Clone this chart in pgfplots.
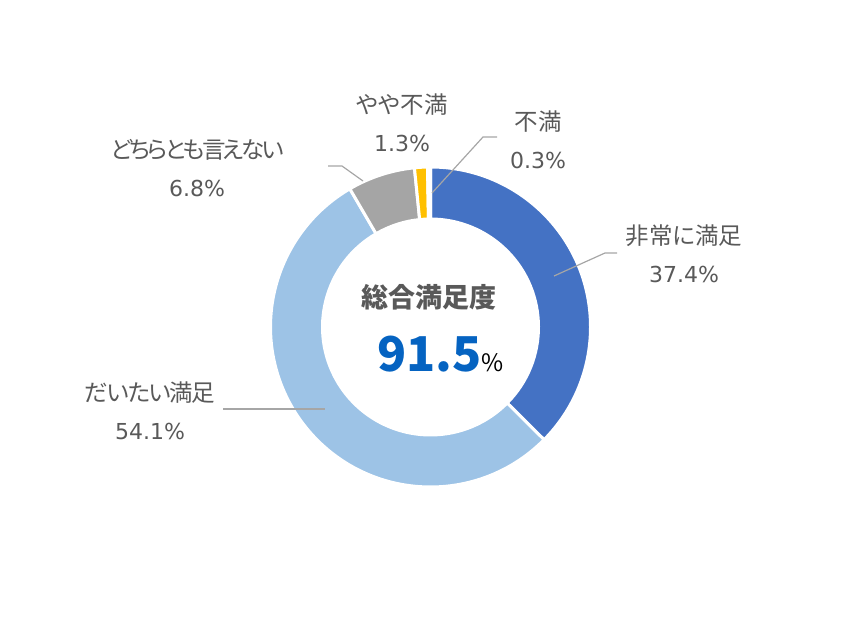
\documentclass[border=0pt]{standalone}
\usepackage{pgfplots}
\pgfplotsset{compat=1.18}
\usepackage{fontspec}
\setmainfont{Noto Sans CJK JP}[RawFeature=+palt]
\newfontfamily\num{DejaVu Sans}

\definecolor{cA}{HTML}{4472C4}
\definecolor{cB}{HTML}{9DC3E6}
\definecolor{cC}{HTML}{A5A5A5}
\definecolor{cD}{HTML}{FFC000}
\definecolor{cE}{HTML}{5B9BD5}
\definecolor{txt}{HTML}{595959}
\definecolor{lead}{HTML}{A6A6A6}
\definecolor{big}{HTML}{0563C1}

% shares (%)
\def\vA{37.4} % 非常に満足
\def\vB{54.1} % だいたい満足
\def\vC{6.8}  % どちらとも言えない
\def\vD{1.3}  % やや不満
\def\vE{0.3}  % 不満
\pgfmathsetmacro\tot{\vA+\vB+\vC+\vD+\vE}
\pgfmathsetmacro\aA{90}
\pgfmathsetmacro\aB{90-(\vA)/\tot*360}
\pgfmathsetmacro\aC{90-(\vA+\vB)/\tot*360}
\pgfmathsetmacro\aD{90-(\vA+\vB+\vC)/\tot*360}
\pgfmathsetmacro\aE{90-(\vA+\vB+\vC+\vD)/\tot*360}
\pgfmathsetmacro\aF{-270}

% wedge from angle #1 to #2, colour #3
\newcommand\ring[3]{%
  \fill[#3, draw=white, line width=3bp, line join=miter]
    (axis cs:430.5,295) ++(#1:160bp) arc[start angle=#1, end angle=#2, radius=160bp]
    -- ++(#2:-52bp) arc[start angle=#2, end angle=#1, radius=108bp] -- cycle;}

\newcommand\lbl{\fontsize{23.5bp}{38bp}\selectfont}
\newcommand\pct[1]{{\num\fontsize{22bp}{38bp}\selectfont #1\%}}
\newcommand\tight[2]{{\addfontfeature{LetterSpace=#1}#2}}

\begin{document}
\begin{tikzpicture}
\begin{axis}[
  scale only axis, width=857bp, height=622bp,
  xmin=0, xmax=857, ymin=0, ymax=622,
  hide axis, clip=false]

% keep the whole chart area as the page
\path (axis cs:0,0) rectangle (axis cs:857,622);

\ring{\aA}{\aB}{cA}
\ring{\aB}{\aC}{cB}
\ring{\aC}{\aD}{cC}
\ring{\aD}{\aE}{cD}
\ring{\aE}{\aF}{cE}

% leader lines
\draw[lead, line width=1.2bp] (axis cs:617,369) -- (axis cs:605,369) -- (axis cs:554,346);
\draw[lead, line width=1.2bp] (axis cs:223,213) -- (axis cs:325,213);
\draw[lead, line width=1.2bp] (axis cs:328,456) -- (axis cs:342,456) -- (axis cs:363,441);
\draw[lead, line width=1.2bp] (axis cs:497,485) -- (axis cs:483,485) -- (axis cs:432,429);

% labels
\node[txt, align=center, font=\lbl] at (axis cs:684,368) {非常に満足\\\pct{37.4}};
\node[txt, align=center, font=\lbl] at (axis cs:150,211) {\tight{-6}{だいたい満足}\\\pct{54.1}};
\node[txt, align=center, font=\lbl] at (axis cs:197,454) {\tight{-12}{どちらとも言えない}\\\pct{6.8}};
\node[txt, align=center, font=\lbl] at (axis cs:402,499.5) {やや不満\\\pct{1.3}};
\node[txt, align=center, font=\lbl] at (axis cs:538,482) {不満\\\pct{0.3}};

% centre
\node[txt, font=\fontsize{27bp}{27bp}\selectfont\bfseries] at (axis cs:429,325) {総合満足度};
\node[anchor=base west, inner sep=0pt] at (axis cs:377,250)
  {{\fontsize{48bp}{48bp}\selectfont\bfseries\color{big}91.5}{\fontsize{24bp}{24bp}\selectfont\color{black}\%}};
\end{axis}
\end{tikzpicture}
\end{document}
